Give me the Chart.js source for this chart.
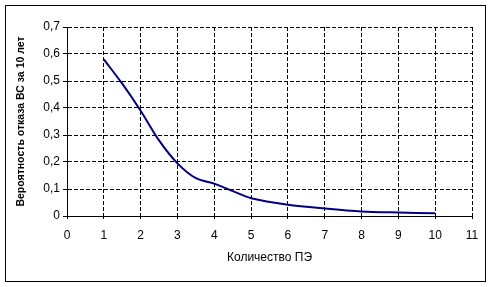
<!DOCTYPE html>
<html>
<head>
<meta charset="utf-8">
<script src="https://cdn.jsdelivr.net/npm/chart.js@4.4.1/dist/chart.umd.min.js"></script>
<style>
  html, body { margin: 0; padding: 0; background: #fff; }
  #wrap { width: 495px; height: 287px; }
</style>
</head>
<body>
<div id="wrap"><canvas id="grafico"></canvas></div>
<script>
// Данные
const kolichestvoPE = [1, 1.5, 2, 2.5, 3, 3.5, 4, 4.5, 5, 6, 7, 8, 9, 10];
const veroyatnost = [0.58, 0.49, 0.39, 0.28, 0.195, 0.14, 0.12, 0.092, 0.066, 0.042, 0.028, 0.017, 0.013, 0.01];
const xTicks = [0, 1, 2, 3, 4, 5, 6, 7, 8, 9, 10, 11];
const yTicks = [0, 0.1, 0.2, 0.3, 0.4, 0.5, 0.6, 0.7];

// Рамка вокруг всей диаграммы
const ramka = {
    id: 'ramka',
    afterDraw(chart) {
        const ctx = chart.ctx;
        ctx.save();
        ctx.strokeStyle = '#000';
        ctx.lineWidth = 1;
        ctx.strokeRect(5.5, 5.5, 480, 276);
        ctx.restore();
    }
};

const shrift = { family: 'Arial, "Liberation Sans", sans-serif', size: 12 };

new Chart(document.getElementById('grafico').getContext('2d'), {
    type: 'scatter',
    data: {
        datasets: [{
            data: kolichestvoPE.map((x, i) => ({ x: x, y: veroyatnost[i] })),
            showLine: true,
            borderColor: '#000080',
            borderWidth: 2,
            pointRadius: 0,
            tension: 0.3
        }]
    },
    options: {
        responsive: true,
        maintainAspectRatio: false,
        animation: false,
        layout: { padding: { left: 0, top: 27, right: 23, bottom: 0 } },
        plugins: { legend: { display: false }, tooltip: { enabled: false } },
        scales: {
            x: {
                type: 'linear',
                min: 0,
                max: 11,
                afterBuildTicks: (axis) => { axis.ticks = xTicks.map(v => ({ value: v })); },
                afterFit: (axis) => { axis.height = 71; },
                ticks: { color: '#000', font: shrift, padding: 9 },
                grid: { color: '#000', lineWidth: 1, tickLength: 3, tickBorderDash: [] },
                border: { display: true, color: '#000', width: 1, dash: [4, 2] },
                title: {
                    display: true,
                    text: 'Количество ПЭ',
                    color: '#000',
                    font: shrift,
                    padding: { top: 0, bottom: 22 }
                }
            },
            y: {
                min: 0,
                max: 0.7,
                afterBuildTicks: (axis) => { axis.ticks = yTicks.map(v => ({ value: v })); },
                afterFit: (axis) => { axis.width = 67; },
                ticks: {
                    color: '#000',
                    font: shrift,
                    padding: 3,
                    callback: (v) => v === 0 ? '0' : v.toFixed(1).replace('.', ',')
                },
                grid: { color: '#000', lineWidth: 1, tickLength: 4, tickBorderDash: [] },
                border: { display: true, color: '#000', width: 1, dash: [4, 2] },
                title: {
                    display: true,
                    text: 'Вероятность отказа ВС за 10 лет',
                    color: '#000',
                    font: { family: shrift.family, size: 10.5, weight: 'bold' },
                    padding: { top: 15, bottom: 0 }
                }
            }
        }
    },
    plugins: [ramka]
});
</script>
</body>
</html>
